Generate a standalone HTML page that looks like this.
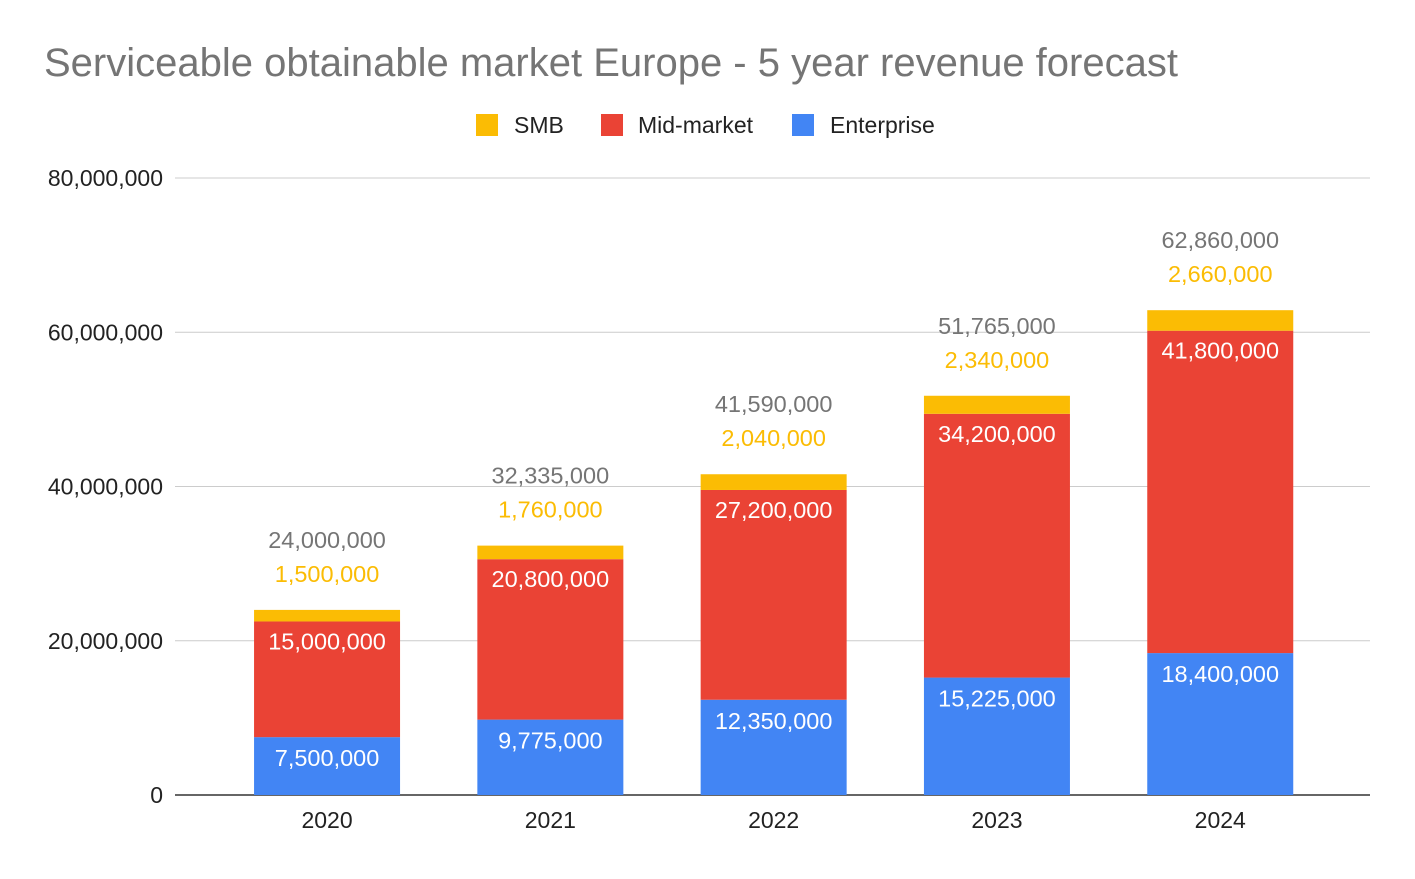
<!DOCTYPE html>
<html><head><meta charset="utf-8"><style>
body{margin:0;background:#fff;font-family:"Liberation Sans",Arial,sans-serif}
svg text{font-family:"Liberation Sans",Arial,sans-serif}
</style></head><body>
<svg id="chart" width="1415" height="874" xmlns="http://www.w3.org/2000/svg">
<rect width="1415" height="874" fill="#fff"/>
<text x="44" y="76" font-size="40" fill="#757575">Serviceable obtainable market Europe - 5 year revenue forecast</text>
<g>
<rect x="476" y="114" width="22" height="22" fill="#fbbc04"/>
<text x="514" y="133" font-size="23" fill="#222">SMB</text>
<rect x="601" y="114" width="22" height="22" fill="#ea4335"/>
<text x="638" y="133" font-size="23" fill="#222">Mid-market</text>
<rect x="792" y="114" width="22" height="22" fill="#4285f4"/>
<text x="830" y="133" font-size="23" fill="#222">Enterprise</text>
</g>
<g id="grid"></g><g id="bars"></g><g id="labels"></g>
</svg>
<script>
const categories=["2020","2021","2022","2023","2024"];
const enterprise=[7500000,9775000,12350000,15225000,18400000];
const midMarket=[15000000,20800000,27200000,34200000,41800000];
const smb=[1500000,1760000,2040000,2340000,2660000];
const totals=[24000000,32335000,41590000,51765000,62860000];
const yTicks=[0,20000000,40000000,60000000,80000000];
const NS="http://www.w3.org/2000/svg";
const y0=795,yTop=178,yMax=80000000;
const y=v=>y0-(v/yMax)*(y0-yTop);
const bandL=215.4,band=223.3,barW=146;
const xc=i=>bandL+band*(i+0.5);
const fmt=v=>v.toLocaleString("en-US");
function mk(tag,attrs,parent,txt){const e=document.createElementNS(NS,tag);for(const k in attrs)e.setAttribute(k,attrs[k]);if(txt!==undefined)e.textContent=txt;parent.appendChild(e);return e;}
const grid=document.getElementById("grid"),bars=document.getElementById("bars"),labels=document.getElementById("labels");
yTicks.forEach((t,i)=>{
  const l=mk("line",{x1:175,x2:1370,y1:y(t),y2:y(t),stroke:t===0?"#333":"#ccc","stroke-width":t===0?1.5:1},grid);
  
  
  const tx=mk("text",{x:163,y:y(t)+8,"font-size":23,fill:"#222","text-anchor":"end"},grid,fmt(t));
  
  
});
categories.forEach((c,i)=>{
  const x=xc(i)-barW/2;
  const segs=[[0,enterprise[i],"#4285f4","bar-enterprise"],[enterprise[i],enterprise[i]+midMarket[i],"#ea4335","bar-mid-market"],[enterprise[i]+midMarket[i],enterprise[i]+midMarket[i]+smb[i],"#fbbc04","bar-smb"]];
  segs.forEach(s=>{
    const r=mk("rect",{x:x,y:y(s[1]),width:barW,height:y(s[0])-y(s[1]),fill:s[2]},bars);
    
    
  });
  const a=mk("text",{x:xc(i),y:y(enterprise[i])+29,"font-size":23.5,fill:"#fff","text-anchor":"middle"},labels,fmt(enterprise[i]));
  
  
  const b=mk("text",{x:xc(i),y:y(enterprise[i]+midMarket[i])+28,"font-size":23.5,fill:"#fff","text-anchor":"middle"},labels,fmt(midMarket[i]));
  
  
  const top=y(enterprise[i]+midMarket[i]+smb[i]);
  const d=mk("text",{x:xc(i),y:top-28,"font-size":23.5,fill:"#fbbc04","text-anchor":"middle"},labels,fmt(smb[i]));
  
  
  const e=mk("text",{x:xc(i),y:top-62,"font-size":23.5,fill:"#757575","text-anchor":"middle"},labels,fmt(totals[i]));
  
  
  const f=mk("text",{x:xc(i),y:828,"font-size":23,fill:"#222","text-anchor":"middle"},labels,c);
  
  
});
</script>
</body></html>
